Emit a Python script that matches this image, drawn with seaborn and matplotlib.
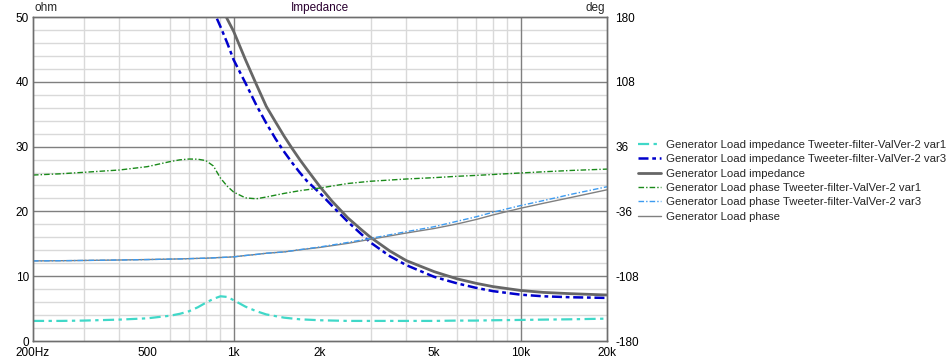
import numpy as np
import pandas as pd
import matplotlib
matplotlib.use("Agg")
import matplotlib.pyplot as plt
import seaborn as sns

# frequency points (Hz)
freq = [200, 250, 300, 400, 500, 600, 650, 700, 750, 800, 850, 900, 950, 1000, 1100,
        1200, 1300, 1500, 1700, 2000, 2500, 3000, 4000, 5000, 6000, 7000, 8000,
        10000, 12000, 15000, 20000]

# impedance (ohm)
imp_var1 = [3.1, 3.1, 3.15, 3.3, 3.5, 3.9, 4.2, 4.6, 5.2, 5.9, 6.5, 6.9, 6.8, 6.3, 5.3,
            4.6, 4.1, 3.6, 3.35, 3.2, 3.1, 3.1, 3.1, 3.1, 3.15, 3.15, 3.2,
            3.25, 3.3, 3.35, 3.45]
freq_hi = [800, 850, 900, 950, 1000, 1100, 1200, 1300, 1400, 1500, 1600, 1700, 1800,
           2000, 2200, 2500, 2800, 3000, 3500, 4000, 5000, 6000, 7000, 8000, 10000,
           12000, 15000, 20000]
imp_var3 = [54.0, 51.0, 48.5, 46.0, 43.4, 39.8, 36.4, 33.6, 31.2, 29.2, 27.5, 26.0, 24.7,
            22.8, 20.9, 18.4, 16.4, 15.2, 13.1, 11.7, 9.9, 8.9, 8.2, 7.7, 7.15,
            6.9, 6.75, 6.65]
imp_load = [58.0, 55.0, 52.0, 49.7, 47.8, 43.4, 39.6, 36.2, 33.8, 31.6, 29.7, 28.0, 26.5,
            23.8, 21.6, 19.0, 17.1, 16.0, 13.9, 12.4, 10.7, 9.6, 8.9, 8.4, 7.8,
            7.5, 7.3, 7.1]

# phase (deg)
ph_var1 = [4.4, 5.8, 7.4, 10.0, 13.7, 19.3, 21.3, 22.2, 22.0, 20.5, 14.5, 1.0, -8.0, -14.5, -21.0,
           -22.0, -20.0, -16.0, -13.0, -10.0, -5.0, -2.5, 0.0, 1.5, 3.0, 4.0, 5.0,
           6.7, 8.0, 9.5, 11.0]
ph_var3 = [-91.0, -90.8, -90.5, -90.0, -89.5, -89.0, -88.8, -88.5, -88.2, -88.0, -87.6, -87.2, -86.9,
           -86.5, -85.0, -83.8, -82.5, -81.0, -78.5, -75.5, -70.5, -66.0, -58.5, -53.0, -47.0,
           -42.0, -37.0, -29.5, -24.0, -17.0, -8.6]
ph_load = [-91.0, -90.8, -90.5, -90.0, -89.5, -89.0, -88.8, -88.5, -88.2, -88.0, -87.6, -87.2, -86.9,
           -86.5, -85.0, -83.8, -82.5, -81.0, -78.7, -76.0, -71.5, -67.0, -60.0, -55.0, -50.0,
           -45.0, -40.0, -32.5, -27.0, -20.5, -12.0]

xticks = [200, 500, 1000, 2000, 5000, 10000, 20000]
xticklabels = ["200Hz", "500", "1k", "2k", "5k", "10k", "20k"]
xminor = [300, 400, 600, 700, 800, 900, 3000, 4000, 6000, 7000, 8000, 9000]
yticks = [0, 10, 20, 30, 40, 50]
y2ticks = [-180, -108, -36, 36, 108, 180]

sns.set_style("white")
plt.rcParams["font.family"] = ["Liberation Sans", "DejaVu Sans"]
plt.rcParams["font.size"] = 8

fig = plt.figure(figsize=(9.51, 3.6), dpi=100)
ax = fig.add_axes([33 / 951, 1 - 341 / 360, 574 / 951, 324 / 360])
ax2 = ax.twinx()

# grid
for f in xminor:
    ax.axvline(f, color="#d9d9d9", lw=1, zorder=0)
for v in np.arange(2, 50, 2):
    if v % 10:
        ax.axhline(v, color="#d9d9d9", lw=1, zorder=0)
for f in [1000, 10000]:
    ax.axvline(f, color="#7f7f7f", lw=1, zorder=0.5)
for v in [10, 20, 30, 40]:
    ax.axhline(v, color="#7f7f7f", lw=1, zorder=0.5)

sns.lineplot(x=freq, y=imp_var1, ax=ax, color="#40d8c8", lw=1.6,
             linestyle=(0, (5, 2, 1.5, 2)),
             label="Generator Load impedance Tweeter-filter-ValVer-2 var1")
sns.lineplot(x=freq_hi, y=imp_var3, ax=ax, color="#0000cc", lw=1.8,
             linestyle=(0, (4, 1.5, 1.5, 1.5)),
             label="Generator Load impedance Tweeter-filter-ValVer-2 var3")
sns.lineplot(x=freq_hi, y=imp_load, ax=ax, color="#666666", lw=2,
             label="Generator Load impedance")
sns.lineplot(x=freq, y=ph_var1, ax=ax2, color="#1a8a1a", lw=1,
             linestyle=(0, (4, 1.5, 1, 1.5)),
             label="Generator Load phase Tweeter-filter-ValVer-2 var1")
sns.lineplot(x=freq, y=ph_load, ax=ax2, color="#808080", lw=1,
             label="Generator Load phase")
sns.lineplot(x=freq, y=ph_var3, ax=ax2, color="#3d9bf0", lw=1,
             linestyle=(0, (4, 1.5, 1, 1.5)),
             label="Generator Load phase Tweeter-filter-ValVer-2 var3")

ax.set_xscale("log")
ax.set_xlim(200, 20000)
ax.set_ylim(0, 50)
ax2.set_ylim(-180, 180)
ax.set_xticks(xticks)
ax.set_xticklabels(xticklabels)
ax.set_xticks(xminor, minor=True)
ax.set_xticklabels([], minor=True)
ax.set_yticks(yticks)
ax.set_yticklabels([str(v) for v in yticks])
ax2.set_yticks(y2ticks)
ax2.set_yticklabels([str(v) for v in y2ticks])
ax.tick_params(axis="both", which="both", length=0, labelsize=8.5, colors="black")
ax.tick_params(axis="x", pad=4)
ax.tick_params(axis="y", pad=3)
ax2.tick_params(axis="y", length=0, labelsize=8.5, pad=6, colors="black")
ax.set_xlabel("")
ax.set_ylabel("")
ax2.set_ylabel("")

for a in (ax, ax2):
    for s in a.spines.values():
        s.set_color("#6e6e6e")
        s.set_linewidth(1)

ax.text(0.002, 1.008, "ohm", transform=ax.transAxes, ha="left", va="bottom", fontsize=8.5)
ax.text(0.997, 1.008, "deg", transform=ax.transAxes, ha="right", va="bottom", fontsize=8.5)
ax.text(0.5, 1.008, "Impedance", transform=ax.transAxes, ha="center", va="bottom",
        fontsize=8.5, color="#2a0030")

h1, l1 = ax.get_legend_handles_labels()
h2, l2 = ax2.get_legend_handles_labels()
handles = h1 + h2
labels = l1 + l2
order = [0, 1, 2, 3, 5, 4]
ax.get_legend().remove()
ax2.get_legend().remove()
fig.legend([handles[i] for i in order], [labels[i] for i in order],
           loc="upper left", bbox_to_anchor=(638 / 951, 1 - 140 / 360),
           frameon=False, fontsize=8.2, handlelength=2.0, handletextpad=0.5,
           labelspacing=0.38, borderpad=0, borderaxespad=0)

fig.savefig("out.png", dpi=100)
